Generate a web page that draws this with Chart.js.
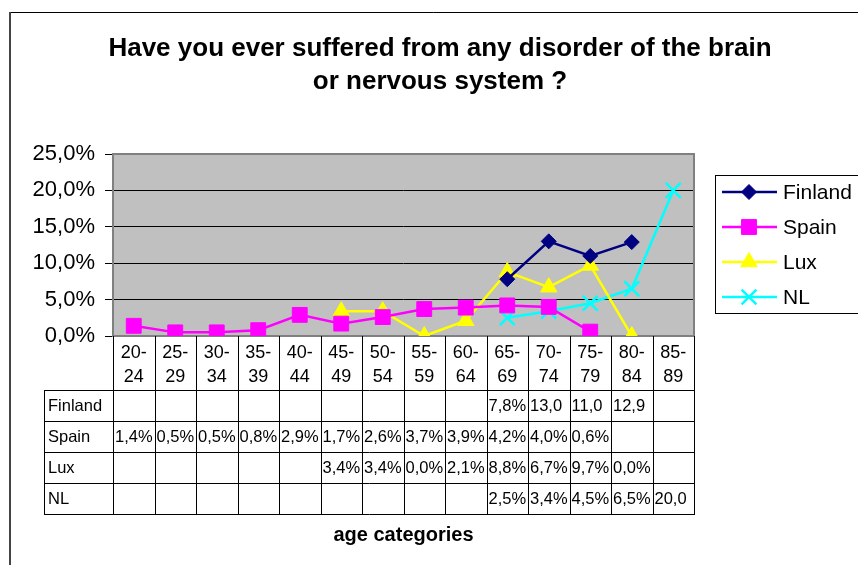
<!DOCTYPE html>
<html>
<head>
<meta charset="utf-8">
<script src="https://cdn.jsdelivr.net/npm/chart.js@4.4.0/dist/chart.umd.min.js"></script>
<style>
body { margin: 0; background: #fff; }
#wrap { width: 858px; height: 565px; }
</style>
</head>
<body>
<div id="wrap"><canvas id="chart" width="858" height="565"></canvas></div>
<script>
// age groups on the x axis
const ageGroups = ['20-24', '25-29', '30-34', '35-39', '40-44', '45-49', '50-54',
                   '55-59', '60-64', '65-69', '70-74', '75-79', '80-84', '85-89'];

// share of people (%) per age group, null = no data
const finland = [null, null, null, null, null, null, null, null, null, 7.8, 13.0, 11.0, 12.9, null];
const spain   = [1.4, 0.5, 0.5, 0.8, 2.9, 1.7, 2.6, 3.7, 3.9, 4.2, 4.0, 0.6, null, null];
const lux     = [null, null, null, null, null, 3.4, 3.4, 0.0, 2.1, 8.8, 6.7, 9.7, 0.0, null];
const nl      = [null, null, null, null, null, null, null, null, null, 2.5, 3.4, 4.5, 6.5, 20.0];

const yTicks = [0, 5, 10, 15, 20, 25];

const titleLines = ['Have you ever suffered from any disorder of the brain', 'or nervous system ?'];
const xTitle = 'age categories';

const FONT = '"Liberation Sans", Arial, Helvetica, sans-serif';

function pct(v) {
    return v.toFixed(1).replace('.', ',') + '%';
}

// plot background, frame, title, legend and the data table under the axis
const extras = {
    id: 'extras',
    beforeDraw(chart) {
        const ctx = chart.ctx;
        const a = chart.chartArea;
        ctx.save();
        ctx.fillStyle = '#fff';
        ctx.fillRect(0, 0, chart.width, chart.height);
        // outer frame
        ctx.strokeStyle = '#000';
        ctx.lineWidth = 1;
        ctx.beginPath();
        ctx.moveTo(chart.width, 12.5);
        ctx.lineTo(9.5, 12.5);
        ctx.stroke();
        ctx.strokeStyle = '#444';
        ctx.lineWidth = 2;
        ctx.beginPath();
        ctx.moveTo(10, 12);
        ctx.lineTo(10, chart.height);
        ctx.stroke();
        // plot area
        ctx.fillStyle = '#c0c0c0';
        ctx.fillRect(a.left, a.top, a.right - a.left, a.bottom - a.top);
        ctx.restore();
    },
    beforeDatasetsDraw(chart) {
        const ctx = chart.ctx;
        const a = chart.chartArea;
        ctx.save();
        ctx.strokeStyle = '#808080';
        ctx.lineWidth = 2;
        ctx.strokeRect(a.left, a.top, a.right - a.left, a.bottom - a.top);
        ctx.restore();
    },
    afterDraw(chart) {
        const ctx = chart.ctx;
        const a = chart.chartArea;
        const x = chart.scales.x;
        ctx.save();

        // title
        ctx.fillStyle = '#000';
        ctx.font = 'bold 26px ' + FONT;
        ctx.textAlign = 'center';
        ctx.textBaseline = 'alphabetic';
        titleLines.forEach((t, i) => ctx.fillText(t, 440, 56 + i * 33));

        // legend
        ctx.strokeStyle = '#000';
        ctx.lineWidth = 1;
        ctx.strokeRect(715.5, 175.5, 160, 138);
        ctx.font = '21px ' + FONT;
        ctx.textAlign = 'left';
        ctx.textBaseline = 'middle';
        chart.data.datasets.forEach((ds, i) => {
            const y = 192 + i * 35;
            ctx.strokeStyle = ds.borderColor;
            ctx.lineWidth = ds.borderWidth;
            ctx.beginPath();
            ctx.moveTo(722, y);
            ctx.lineTo(777, y);
            ctx.stroke();
            ctx.fillStyle = ds.pointBackgroundColor;
            ctx.strokeStyle = ds.pointBorderColor;
            ctx.lineWidth = ds.pointBorderWidth;
            Chart.helpers.drawPoint(ctx, {
                pointStyle: ds.pointStyle,
                radius: ds.pointRadius,
                rotation: 0,
                borderWidth: ds.pointBorderWidth
            }, 749, y);
            ctx.fillStyle = '#000';
            ctx.fillText(ds.label, 783, y + 1);
        });

        // data table
        const half = (x.getPixelForValue(1) - x.getPixelForValue(0)) / 2;
        const edges = [];
        for (let i = 0; i < ageGroups.length; i++) {
            edges.push(x.getPixelForValue(i) - half);
        }
        edges.push(x.getPixelForValue(ageGroups.length - 1) + half);

        const labelBottom = a.bottom + 54;
        const rowH = 31;
        const tableLeft = 44;
        const rows = chart.data.datasets.length;
        const tableBottom = labelBottom + rows * rowH;

        ctx.strokeStyle = '#000';
        ctx.lineWidth = 1;
        ctx.beginPath();
        edges.forEach(e => {
            const px = Math.round(e) + 0.5;
            ctx.moveTo(px, a.bottom);
            ctx.lineTo(px, tableBottom);
        });
        ctx.moveTo(tableLeft + 0.5, labelBottom);
        ctx.lineTo(tableLeft + 0.5, tableBottom);
        for (let r = 0; r <= rows; r++) {
            const py = labelBottom + r * rowH + 0.5;
            ctx.moveTo(tableLeft, py);
            ctx.lineTo(Math.round(edges[edges.length - 1]) + 1, py);
        }
        ctx.stroke();

        ctx.font = '16.5px ' + FONT;
        ctx.fillStyle = '#000';
        ctx.textAlign = 'left';
        ctx.textBaseline = 'middle';
        chart.data.datasets.forEach((ds, r) => {
            const cy = labelBottom + r * rowH + rowH / 2 + 1;
            ctx.fillText(ds.label, tableLeft + 4, cy);
            ds.data.forEach((v, i) => {
                if (v === null) return;
                let t = pct(v);
                const w = edges[i + 1] - edges[i];
                if (ctx.measureText(t).width > w - 3) t = t.slice(0, -1);
                ctx.fillText(t, edges[i] + 2, cy);
            });
        });

        // axis title
        ctx.font = 'bold 20px ' + FONT;
        ctx.textAlign = 'center';
        ctx.fillText(xTitle, (a.left + a.right) / 2, 535);

        ctx.restore();
    }
};

function series(label, data, color, style, radius) {
    return {
        label: label,
        data: data,
        borderColor: color,
        backgroundColor: color,
        borderWidth: 2.5,
        pointStyle: style,
        pointRadius: radius,
        pointHoverRadius: radius,
        pointBackgroundColor: color,
        pointBorderColor: color,
        pointBorderWidth: style === 'crossRot' ? 2.5 : 1,
        spanGaps: false,
        tension: 0
    };
}

const chart = new Chart(document.getElementById('chart'), {
    type: 'line',
    data: {
        labels: ageGroups.map(g => {
            const p = g.split('-');
            return [p[0] + '-', p[1]];
        }),
        datasets: [
            series('Finland', finland, '#000080', 'rectRot', 7.5),
            series('Spain', spain, '#ff00ff', 'rect', 10.5),
            series('Lux', lux, '#ffff00', 'triangle', 9.5),
            series('NL', nl, '#00ffff', 'crossRot', 10.5)
        ]
    },
    options: {
        responsive: false,
        animation: false,
        events: [],
        layout: {
            padding: { left: 10, right: 164, top: 154, bottom: 0 }
        },
        plugins: {
            legend: { display: false },
            title: { display: false },
            tooltip: { enabled: false }
        },
        scales: {
            x: {
                offset: true,
                grid: { display: false },
                border: { display: false },
                ticks: {
                    color: '#000',
                    font: { family: FONT, size: 18, lineHeight: 1.33 },
                    maxRotation: 0,
                    autoSkip: false,
                    padding: -3
                },
                afterFit(scale) { scale.height = 229; }
            },
            y: {
                min: 0,
                max: 25,
                afterBuildTicks(scale) {
                    scale.ticks = yTicks.map(v => ({ value: v }));
                },
                grid: { color: '#000', lineWidth: 1, tickLength: 8 },
                border: { display: false },
                ticks: {
                    color: '#000',
                    font: { family: FONT, size: 22 },
                    padding: 10,
                    callback: v => pct(v)
                },
                afterFit(scale) { scale.width = 103; }
            }
        }
    },
    plugins: [extras]
});
</script>
</body>
</html>
